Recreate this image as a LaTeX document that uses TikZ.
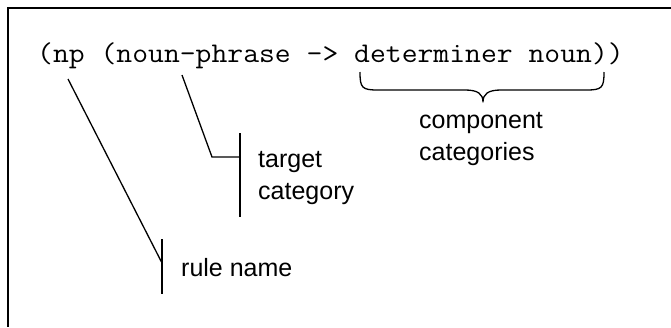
\documentclass[tikz,border=0pt]{standalone}
\usepackage{fontspec}
\usepackage{graphicx}
\setmainfont{Liberation Sans}
\begin{document}
\begin{tikzpicture}[x=1pt,y=-1pt,
  codetext/.style={font=\ttfamily\fontsize{28.5}{32}\selectfont, inner sep=0pt, anchor=base west},
  labeltext/.style={font=\fontsize{25}{30}\selectfont, inner sep=0pt, anchor=base west},
  conn/.style={line width=1.3pt, line join=miter},
  frameline/.style={line width=2pt}]
\useasboundingbox (0,0) rectangle (671,327);
% frame (top and left edges)
\draw[frameline] (671,8) -- (7.5,8) -- (7.5,327);
% code line
\node[codetext] (code) at (37,62) {\scalebox{1.08}[1]{(np (noun-phrase -> determiner noun))}};
% labels
\node[labeltext] (comp1) at (419,128) {component};
\node[labeltext] (comp2) at (419,160) {categories};
\node[labeltext] (targ1) at (258,167) {target};
\node[labeltext] (targ2) at (258,199) {category};
\node[labeltext] (rule) at (181,276) {rule name};
% coordinates
\coordinate (npA) at (68,79);
\coordinate (rjoin) at (162,263);
\coordinate (rtop) at (162,239);
\coordinate (rbot) at (162,294);
\coordinate (nphA) at (182,75);
\coordinate (nphK) at (212,157);
\coordinate (tjoin) at (240,157);
\coordinate (ttop) at (240,133);
\coordinate (tbot) at (240,217);
\coordinate (bl) at (360,72);
\coordinate (br) at (604,72);
\coordinate (btip) at (483,102);
% rule name connector
\draw[conn] (npA) -- (rjoin);
\draw[conn] (rtop) -- (rbot);
% target category connector
\draw[conn] (nphA) -- (nphK) -- (tjoin);
\draw[conn] (ttop) -- (tbot);
% brace
\draw[conn, line join=round] (bl) .. controls +(0,16) and +(-16,0) .. ([xshift=18pt]bl |- 0,90)
  -- (465,90) .. controls +(13,0) and +(0,-8) .. (btip)
  .. controls +(0,-8) and +(-13,0) .. (501,90)
  -- ([xshift=-18pt]br |- 0,90) .. controls +(16,0) and +(0,16) .. (br);
\end{tikzpicture}
\end{document}
